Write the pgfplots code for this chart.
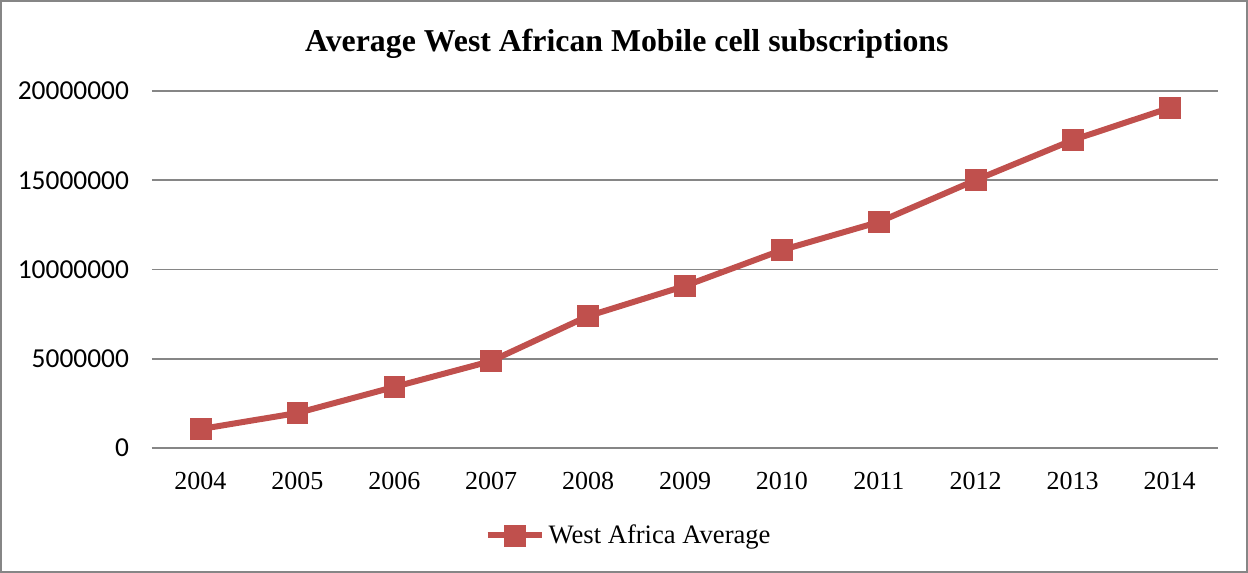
\documentclass[border=0pt]{standalone}
\usepackage{fontspec}
\setmainfont{Liberation Serif}
\newfontfamily\carlito{Carlito}
\usepackage{pgfplots}
\pgfplotsset{compat=1.18}
\definecolor{exred}{HTML}{C0504D}
\definecolor{gridgray}{HTML}{868686}
\begin{document}
\begin{tikzpicture}
\draw[gridgray,line width=0.8pt] (-75.6pt,-62.1pt) rectangle (547.6pt,223.6pt);
\begin{axis}[
  at={(0,0)}, anchor=south west,
  scale only axis, width=533pt, height=178.5pt,
  xmin=-0.5, xmax=10.5, ymin=0, ymax=20000000,
  xtick={0,...,10},
  xticklabels={2004,2005,2006,2007,2008,2009,2010,2011,2012,2013,2014},
  ytick={0,5000000,10000000,15000000,20000000},
  scaled y ticks=false,
  /pgf/number format/assume math mode=true,
  yticklabel={\pgfmathprintnumber[fixed,1000 sep={}]{\tick}},
  yticklabel style={font=\carlito\fontsize{13.7}{14}\selectfont, xshift=-8pt},
  xticklabel style={font=\fontsize{13}{14}\selectfont, yshift=-8.5pt},
  major tick length=0pt,
  axis line style={draw=none},
  ymajorgrids, grid style={gridgray, line width=0.8pt},
  legend style={draw=none, at={(0.448,-0.245)}, anchor=center, font=\fontsize{13.3}{14}\selectfont, inner sep=0pt},
  legend image code/.code={\draw[#1, line width=3pt] (-0.05cm,0) -- (0.9cm,0); \path plot[#1] coordinates {(0.425cm,0)};},
  clip=false,
]
\draw[gridgray, line width=0.8pt] (axis cs:-0.5,0) -- (axis cs:10.5,0);
\addplot[exred, line width=3pt, mark=square*, mark size=5.2pt, mark options={solid, line width=0.3pt}] coordinates {
(0,1060000) (1,1960000) (2,3420000) (3,4870000) (4,7390000) (5,9080000)
(6,11090000) (7,12660000) (8,15010000) (9,17250000) (10,19050000)};
\addlegendentry{West Africa Average}
\node[font=\bfseries\fontsize{15.9}{17}\selectfont] at (axis cs:4.4,22650000) {Average West African Mobile cell subscriptions};
\end{axis}
\end{tikzpicture}
\end{document}
